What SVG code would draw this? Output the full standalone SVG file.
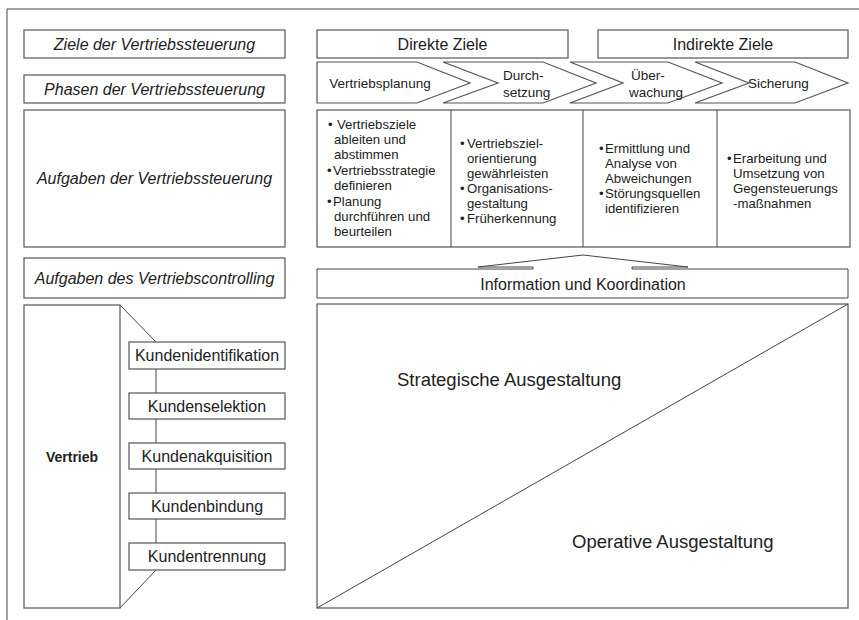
<svg xmlns="http://www.w3.org/2000/svg" width="859" height="620" viewBox="0 0 859 620">
<style>
text{font-family:"Liberation Sans",Arial,sans-serif;fill:#222}
.box{fill:#fff;stroke:#555;stroke-width:1.2}
.ln{fill:none;stroke:#444;stroke-width:1}
.it{font-style:italic;font-size:16px;text-anchor:middle}
.lbl{font-size:16px;text-anchor:middle}
.ch{font-size:13.5px}
.bl{font-size:13.2px}
.big{font-size:18.5px}
</style>
<rect width="859" height="620" fill="#fff"/>
<g id="frame"><path class="ln" d="M7,620 V9 H859" stroke="#222"/></g>

<g id="ziele-label"><rect class="box" x="24" y="30" width="261" height="28"/><text class="it" x="154.5" y="50">Ziele der Vertriebssteuerung</text></g>
<g id="phasen-label"><rect class="box" x="24" y="75" width="261" height="28"/><text class="it" x="154.5" y="95">Phasen der Vertriebssteuerung</text></g>
<g id="aufgaben-label"><rect class="box" x="24" y="110" width="261" height="137"/><text class="it" x="154.5" y="184">Aufgaben der Vertriebssteuerung</text></g>
<g id="controlling-label"><rect class="box" x="24" y="258" width="261" height="40"/><text class="it" x="154.5" y="284">Aufgaben des Vertriebscontrolling</text></g>

<g id="direkte-ziele"><rect class="box" x="317" y="30" width="251" height="28"/><text class="lbl" x="442.5" y="50">Direkte Ziele</text></g>
<g id="indirekte-ziele"><rect class="box" x="598" y="30" width="250" height="28"/><text class="lbl" x="723" y="50">Indirekte Ziele</text></g>

<g id="phase-planung"><path class="box" d="M317,62 H417 L470,83 L417,103 H317 Z"/><text class="ch" x="380" y="88" text-anchor="middle">Vertriebsplanung</text></g>
<g id="phase-durchsetzung"><path class="box" d="M443,62 H543 L596,83 L543,103 H443 L498,83 Z"/><text class="ch" x="503" y="80">Durch-</text><text class="ch" x="503" y="97">setzung</text></g>
<g id="phase-ueberwachung"><path class="box" d="M570,62 H668 L722,83 L668,103 H570 L623,83 Z"/><text class="ch" x="631" y="80">Über-</text><text class="ch" x="629" y="97">wachung</text></g>
<g id="phase-sicherung"><path class="box" d="M695,62 H795 L848,83 L795,103 H695 L749,83 Z"/><text class="ch" x="748" y="88">Sicherung</text></g>

<g id="aufgaben-table">
<rect class="box" x="317" y="110" width="533" height="137"/>
<path class="ln" d="M451,110 V247 M583,110 V247 M717,110 V247" stroke="#555"/>
</g>
<g id="aufgaben-planung" class="bl">
<text class="bl" x="328" y="129">•</text><text class="bl" x="337" y="129">Vertriebsziele</text>
<text class="bl" x="334" y="144">ableiten und</text>
<text class="bl" x="334" y="159">abstimmen</text>
<text class="bl" x="327" y="175">•</text><text class="bl" x="333" y="175">Vertriebsstrategie</text>
<text class="bl" x="334" y="190">definieren</text>
<text class="bl" x="327" y="206">•</text><text class="bl" x="333" y="206">Planung</text>
<text class="bl" x="334" y="221">durchführen und</text>
<text class="bl" x="334" y="236">beurteilen</text>
</g>
<g id="aufgaben-durchsetzung">
<text class="bl" x="460" y="148">•</text><text class="bl" x="467" y="148">Vertriebsziel-</text>
<text class="bl" x="467" y="163">orientierung</text>
<text class="bl" x="467" y="178">gewährleisten</text>
<text class="bl" x="460" y="193">•</text><text class="bl" x="467" y="193">Organisations-</text>
<text class="bl" x="467" y="208">gestaltung</text>
<text class="bl" x="460" y="223">•</text><text class="bl" x="467" y="223">Früherkennung</text>
</g>
<g id="aufgaben-ueberwachung">
<text class="bl" x="599" y="153">•</text><text class="bl" x="605" y="153">Ermittlung und</text>
<text class="bl" x="605" y="168">Analyse von</text>
<text class="bl" x="605" y="183">Abweichungen</text>
<text class="bl" x="599" y="198">•</text><text class="bl" x="605" y="198">Störungsquellen</text>
<text class="bl" x="605" y="213">identifizieren</text>
</g>
<g id="aufgaben-sicherung">
<text class="bl" x="727" y="163">•</text><text class="bl" x="733" y="163">Erarbeitung und</text>
<text class="bl" x="733" y="178">Umsetzung von</text>
<text class="bl" x="733" y="193">Gegensteuerungs</text>
<text class="bl" x="733" y="208">-maßnahmen</text>
</g>

<g id="information">
<rect x="317" y="269" width="531" height="29" fill="#fff"/>
<path class="ln" d="M533,269 H317 V298 H848 V269 H632" stroke="#555"/>
<path class="ln" d="M533,269 V267 H478 L583,255 L688,267 H632 V269"/>
<text class="lbl" x="583" y="290">Information und Koordination</text>
</g>

<g id="ausgestaltung">
<rect class="box" x="317" y="304" width="531" height="304"/>
<text class="big" x="397" y="386">Strategische Ausgestaltung</text>
<text class="big" x="572" y="548">Operative Ausgestaltung</text>
</g>

<g id="connectors">
<path class="ln" d="M317,608 L848,304"/>
<path class="ln" d="M120,305 L156,342 M156,342 V570 M156,570 L120,608"/>
</g>

<g id="vertrieb"><rect class="box" x="24" y="305" width="96" height="303"/><text x="72" y="462" font-size="14" font-weight="bold" text-anchor="middle">Vertrieb</text></g>
<g id="kundenidentifikation"><rect class="box" x="129" y="342" width="156" height="27"/><text class="lbl" x="207" y="361">Kundenidentifikation</text></g>
<g id="kundenselektion"><rect class="box" x="129" y="393" width="156" height="26"/><text class="lbl" x="207" y="412">Kundenselektion</text></g>
<g id="kundenakquisition"><rect class="box" x="129" y="443" width="156" height="26"/><text class="lbl" x="207" y="462">Kundenakquisition</text></g>
<g id="kundenbindung"><rect class="box" x="129" y="493" width="156" height="26"/><text class="lbl" x="207" y="512">Kundenbindung</text></g>
<g id="kundentrennung"><rect class="box" x="129" y="543" width="156" height="27"/><text class="lbl" x="207" y="562">Kundentrennung</text></g>
</svg>
